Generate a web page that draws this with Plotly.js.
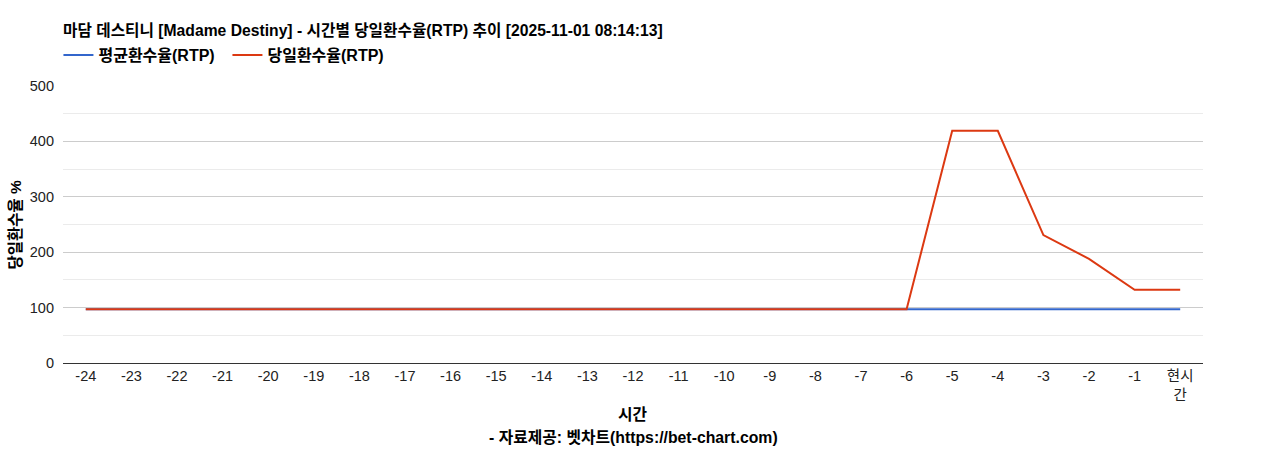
<!DOCTYPE html>
<html>
<head>
<meta charset="utf-8">
<script src="https://cdn.plot.ly/plotly-3.0.1.min.js"></script>
<style>
  html, body { margin: 0; padding: 0; background: #fff; }
  #chart { width: 1268px; height: 450px; }
</style>
</head>
<body>
<div id="chart"></div>
<script>
var hours = [-24, -23, -22, -21, -20, -19, -18, -17, -16, -15, -14, -13, -12,
             -11, -10, -9, -8, -7, -6, -5, -4, -3, -2, -1, 0];
var hourLabels = ['-24', '-23', '-22', '-21', '-20', '-19', '-18', '-17', '-16',
                  '-15', '-14', '-13', '-12', '-11', '-10', '-9', '-8', '-7', '-6',
                  '-5', '-4', '-3', '-2', '-1', '현시<br>간'];
var avgRtp = [97, 97, 97, 97, 97, 97, 97, 97, 97, 97, 97, 97, 97,
              97, 97, 97, 97, 97, 97, 97, 97, 97, 97, 97, 97];
var dayRtp = [97, 97, 97, 97, 97, 97, 97, 97, 97, 97, 97, 97, 97,
              97, 97, 97, 97, 97, 97, 419, 419, 231, 188, 132, 132];

var font = '"Liberation Sans", Arial, "Noto Sans CJK KR", sans-serif';

var avgLine = {
  x: hours, y: avgRtp,
  name: '평균환수율(RTP)',
  mode: 'lines',
  line: { color: '#3366cc', width: 2 },
  type: 'scatter'
};

var dayLine = {
  x: hours, y: dayRtp,
  name: '당일환수율(RTP)',
  mode: 'lines',
  line: { color: '#dc3912', width: 2 },
  type: 'scatter'
};

// axis titles placed as annotations so their distance matches the original
var notes = [
  { text: '<b>당일환수율 %</b>', x: 0, y: 0.5, xshift: -48, yshift: 0, angle: -90, size: 15.5 },
  { text: '<b>시간</b>', x: 0.5, y: 0, xshift: 0, yshift: -51, angle: 0, size: 15.8 },
  { text: '<b>- 자료제공: 벳차트(https://bet-chart.com)</b>', x: 0.5, y: 0, xshift: 0, yshift: -74, angle: 0, size: 15.8 }
];

Plotly.newPlot('chart', [avgLine, dayLine], {
  width: 1268,
  height: 450,
  paper_bgcolor: '#fff',
  plot_bgcolor: '#fff',
  font: { family: font, size: 14, color: '#222' },
  margin: { l: 63, r: 65, t: 86, b: 87 },
  title: {
    text: '<b>마담 데스티니 [Madame Destiny] - 시간별 당일환수율(RTP) 추이 [2025-11-01 08:14:13]</b>',
    font: { family: font, size: 15.7, color: '#000' },
    x: 0.0497, xanchor: 'left',
    y: 0.933, yanchor: 'middle'
  },
  showlegend: true,
  legend: {
    orientation: 'h',
    x: -0.004, xanchor: 'left',
    y: 1.112, yanchor: 'middle',
    font: { family: font, size: 16, color: '#000', weight: 'bold' },
    itemwidth: 30,
    entrywidth: 124,
    traceorder: 'normal'
  },
  xaxis: {
    tickmode: 'array',
    tickvals: hours,
    ticktext: hourLabels,
    range: [-24.5, 0.5],
    showgrid: false,
    zeroline: false,
    showline: true,
    linecolor: '#333',
    linewidth: 1,
    ticks: '',
    tickfont: { size: 14.5, color: '#222' }
  },
  yaxis: {
    range: [0, 500],
    dtick: 100,
    showgrid: true,
    gridcolor: '#ccc',
    zeroline: false,
    showline: false,
    ticks: '',
    ticklabelstandoff: 8,
    tickfont: { size: 14.5, color: '#222' },
    minor: { dtick: 50, showgrid: true, gridcolor: '#ebebeb' }
  },
  annotations: notes.map(function (n) {
    return {
      text: n.text,
      xref: 'paper', yref: 'paper',
      x: n.x, y: n.y,
      xanchor: 'center', yanchor: 'middle',
      xshift: n.xshift, yshift: n.yshift,
      textangle: n.angle,
      showarrow: false,
      font: { family: font, size: n.size, color: '#000' }
    };
  }),
  hovermode: false
}, { displayModeBar: false, staticPlot: true });
</script>
</body>
</html>
